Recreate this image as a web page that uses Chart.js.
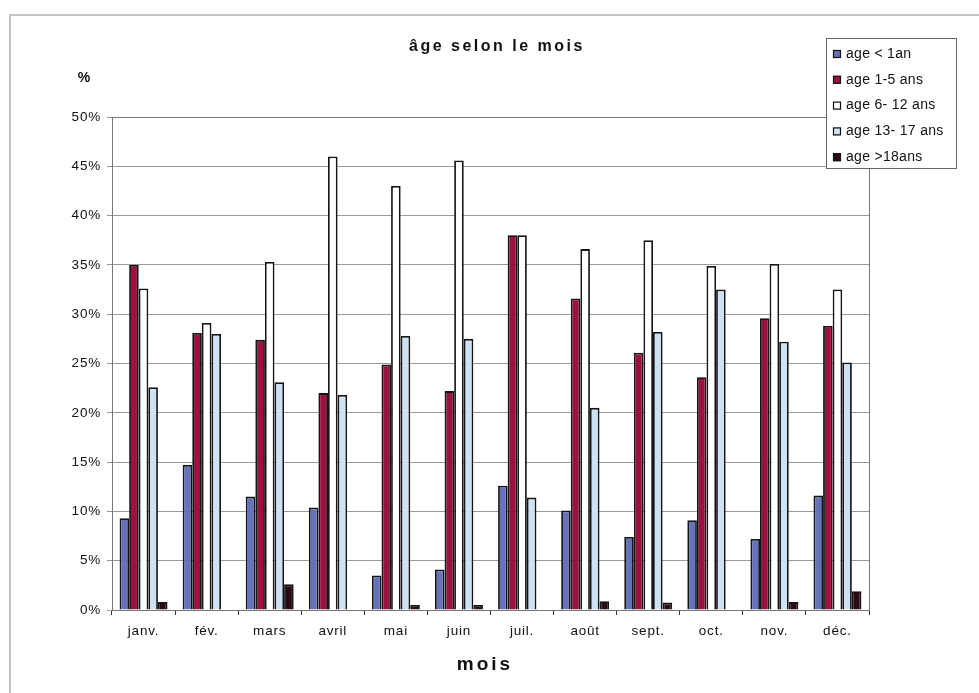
<!DOCTYPE html>
<html>
<head>
<meta charset="utf-8">
<script src="https://cdn.jsdelivr.net/npm/chart.js@4/dist/chart.umd.min.js"></script>
<style>
  html, body { margin: 0; padding: 0; background: #fff; }
  #wrap { width: 979px; height: 693px; }
</style>
</head>
<body>
<div id="wrap"><canvas id="chart" width="979" height="693"></canvas></div>
<script>
// data (percent)
const months = ['janv.', 'fév.', 'mars', 'avril', 'mai', 'juin', 'juil.', 'août', 'sept.', 'oct.', 'nov.', 'déc.'];
const seriesLabels = ['age < 1an', 'age 1-5 ans', 'age 6- 12 ans', 'age 13- 17 ans', 'age >18ans'];
const ageUnder1 = [9.3, 14.7, 11.5, 10.4, 3.5, 4.1, 12.6, 10.1, 7.4, 9.1, 7.2, 11.6];
const age1to5 = [35.0, 28.1, 27.4, 22.0, 24.9, 22.2, 38.0, 31.6, 26.1, 23.6, 29.6, 28.8];
const age6to12 = [32.6, 29.1, 35.3, 46.0, 43.0, 45.6, 38.0, 36.6, 37.5, 34.9, 35.1, 32.5];
const age13to17 = [22.6, 28.0, 23.1, 21.8, 27.8, 27.5, 11.4, 20.5, 28.2, 32.5, 27.2, 25.1];
const ageOver18 = [0.8, 0, 2.6, 0, 0.5, 0.5, 0, 0.9, 0.75, 0, 0.8, 1.9];
const yTicks = [0, 5, 10, 15, 20, 25, 30, 35, 40, 45, 50];

const fills = ['#6673bb', '#9c1141', '#ffffff', '#cfe2f5', '#2c0a13'];
const FONT = '"Liberation Sans", Arial, sans-serif';

// frame, title, axis captions and the boxed legend
const decorPlugin = {
  id: 'decor',
  beforeDraw(chart) {
    const ctx = chart.ctx;
    ctx.letterSpacing = '0.8px';
    ctx.save();
    ctx.strokeStyle = '#c4c4c4';
    ctx.lineWidth = 2;
    ctx.beginPath();
    ctx.moveTo(10, 693);
    ctx.lineTo(10, 15);
    ctx.lineTo(979, 15);
    ctx.stroke();
    ctx.restore();
  },
  afterDraw(chart) {
    const ctx = chart.ctx;
    const area = chart.chartArea;
    ctx.save();
    // plot area box
    ctx.strokeStyle = '#777';
    ctx.lineWidth = 1;
    ctx.strokeRect(area.left + 0.5, area.top + 0.5, area.right - area.left, area.bottom - area.top);

    ctx.fillStyle = '#111';
    ctx.textAlign = 'center';
    ctx.textBaseline = 'middle';
    ctx.letterSpacing = '2.5px';
    ctx.font = 'bold 16px ' + FONT;
    ctx.fillText('âge selon le mois', 497, 47);
    ctx.letterSpacing = '0px';
    ctx.font = 'bold 14px ' + FONT;
    ctx.fillText('%', 84, 78);
    ctx.letterSpacing = '3px';
    ctx.font = 'bold 19px ' + FONT;
    ctx.fillText('mois', 485, 665);

    // legend
    const lx = 826, ly = 38, lw = 130, lh = 130;
    ctx.letterSpacing = '0.3px';
    ctx.fillStyle = '#fff';
    ctx.fillRect(lx, ly, lw, lh);
    ctx.strokeStyle = '#666';
    ctx.strokeRect(lx + 0.5, ly + 0.5, lw, lh);
    ctx.font = '14px ' + FONT;
    ctx.textAlign = 'left';
    chart.data.datasets.forEach((ds, i) => {
      const cy = ly + 16 + i * 25.8;
      ctx.fillStyle = ds.backgroundColor;
      ctx.fillRect(833, cy - 4, 8, 8);
      ctx.strokeStyle = '#111';
      ctx.lineWidth = 1.2;
      ctx.strokeRect(833.5, cy - 3.5, 7, 7);
      ctx.fillStyle = '#111';
      ctx.fillText(ds.label, 846, cy);
    });
    ctx.restore();
  }
};

const seriesData = [ageUnder1, age1to5, age6to12, age13to17, ageOver18];
const datasets = seriesData.map((vals, i) => ({
  label: seriesLabels[i],
  data: vals,
  backgroundColor: fills[i],
  borderColor: '#151515',
  borderWidth: 1.8,
  borderSkipped: 'bottom',
  barPercentage: 1,
  categoryPercentage: 0.76
}));

new Chart(document.getElementById('chart'), {
  type: 'bar',
  data: { labels: months, datasets: datasets },
  options: {
    responsive: false,
    animation: false,
    layout: { padding: { top: 117, right: 110, bottom: 0, left: 0 } },
    plugins: {
      legend: { display: false },
      title: { display: false },
      tooltip: { enabled: false }
    },
    scales: {
      x: {
        grid: {
          display: true,
          drawOnChartArea: false,
          drawTicks: true,
          tickLength: 5,
          color: '#333'
        },
        border: { color: '#222', width: 1 },
        ticks: {
          color: '#111',
          font: { family: FONT, size: 13.5 },
          padding: 8,
          maxRotation: 0
        },
        afterFit(scale) { scale.height = 83; }
      },
      y: {
        min: 0,
        max: 50,
        afterBuildTicks(scale) { scale.ticks = yTicks.map(v => ({ value: v })); },
        grid: {
          color: '#9a9a9a',
          lineWidth: 1,
          drawTicks: true,
          tickLength: 5
        },
        border: { color: '#222', width: 1 },
        ticks: {
          color: '#111',
          font: { family: FONT, size: 13.5 },
          padding: 6,
          callback: v => v + '%'
        },
        afterFit(scale) { scale.width = 112; }
      }
    }
  },
  plugins: [decorPlugin]
});
</script>
</body>
</html>
